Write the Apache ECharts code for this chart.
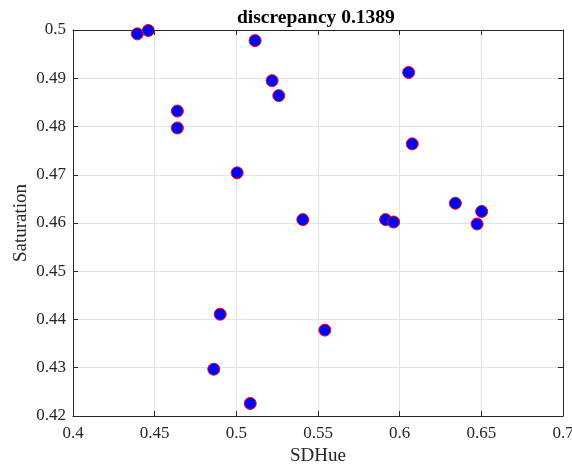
<!DOCTYPE html>
<html>
<head>
<meta charset="utf-8">
<script src="https://cdn.jsdelivr.net/npm/echarts@6/dist/echarts.min.js"></script>
<style>
  html, body { margin: 0; padding: 0; background: #fff; }
  #chart { width: 572px; height: 471px; }
</style>
</head>
<body>
<div id="chart"></div>
<script>
// SDHue (x) against Saturation (y) per sample
const sdHue = [0.4394, 0.4461, 0.4639, 0.4639, 0.5005, 0.5115, 0.5219, 0.5260,
               0.5407, 0.5542, 0.4901, 0.4862, 0.5085, 0.5914, 0.5963, 0.6055,
               0.6077, 0.6341, 0.6502, 0.6474];
const saturation = [0.4992, 0.4999, 0.4832, 0.4797, 0.4704, 0.4978, 0.4895, 0.4864,
                    0.4607, 0.4378, 0.4411, 0.4297, 0.4226, 0.4607, 0.4602, 0.4912,
                    0.4764, 0.4641, 0.4624, 0.4598];
const xTicks = [0.4, 0.45, 0.5, 0.55, 0.6, 0.65, 0.7];
const yTicks = [0.42, 0.43, 0.44, 0.45, 0.46, 0.47, 0.48, 0.49, 0.5];
const titleText = 'discrepancy 0.1389';

const points = sdHue.map((x, i) => [x, saturation[i]]);
const font = 'Liberation Serif';
const axisColor = '#262626';

function fmt(v) {
  return String(parseFloat(v.toFixed(3)));
}

const chart = echarts.init(document.getElementById('chart'));
chart.setOption({
  animation: false,
  backgroundColor: '#fff',
  title: {
    text: titleText,
    left: 232, top: 3,
    textStyle: { fontFamily: font, fontWeight: 'bold', fontSize: 19.5, color: '#000' }
  },
  grid: { left: 73, right: 9, top: 30, bottom: 55, outerBoundsMode: 'none', containLabel: false },
  xAxis: [{
    type: 'value', min: xTicks[0], max: xTicks[xTicks.length - 1], interval: 0.05,
    name: 'SDHue', nameLocation: 'middle', nameGap: 31, nameMoveOverlap: false,
    nameTextStyle: { fontFamily: font, fontSize: 19, color: '#262626' },
    axisLine: { show: true, onZero: false, lineStyle: { color: axisColor, width: 1 } },
    axisTick: { show: true, inside: true, length: 5, lineStyle: { color: axisColor } },
    axisLabel: { fontFamily: font, fontSize: 17, color: '#262626', margin: 9, formatter: fmt,
                 showMinLabel: true, showMaxLabel: true, hideOverlap: false },
    splitLine: { show: true, lineStyle: { color: '#e3e3e3', width: 1 } }
  }, {
    type: 'value', position: 'top', min: xTicks[0], max: xTicks[xTicks.length - 1], interval: 0.05,
    axisLine: { show: true, onZero: false, lineStyle: { color: axisColor, width: 1 } },
    axisTick: { show: true, inside: true, length: 5, lineStyle: { color: axisColor } },
    axisLabel: { show: false }, splitLine: { show: false }
  }],
  yAxis: [{
    type: 'value', min: yTicks[0], max: yTicks[yTicks.length - 1], interval: 0.01,
    name: 'Saturation', nameLocation: 'middle', nameGap: 42, nameMoveOverlap: false,
    nameTextStyle: { fontFamily: font, fontSize: 19, color: '#262626' },
    axisLine: { show: true, onZero: false, lineStyle: { color: axisColor, width: 1 } },
    axisTick: { show: true, inside: true, length: 5, lineStyle: { color: axisColor } },
    axisLabel: { fontFamily: font, fontSize: 17, color: '#262626', margin: 7, formatter: fmt,
                 showMinLabel: true, showMaxLabel: true },
    splitLine: { show: true, lineStyle: { color: '#e3e3e3', width: 1 } }
  }, {
    type: 'value', position: 'right', min: yTicks[0], max: yTicks[yTicks.length - 1], interval: 0.01,
    axisLine: { show: true, onZero: false, lineStyle: { color: axisColor, width: 1 } },
    axisTick: { show: true, inside: true, length: 5, lineStyle: { color: axisColor } },
    axisLabel: { show: false }, splitLine: { show: false }
  }],
  series: [{
    type: 'scatter',
    data: points,
    symbol: 'circle',
    symbolSize: 12,
    itemStyle: { color: '#0000ff', borderColor: '#ff0000', borderWidth: 1, opacity: 1 },
    z: 5
  }]
});
</script>
</body>
</html>
